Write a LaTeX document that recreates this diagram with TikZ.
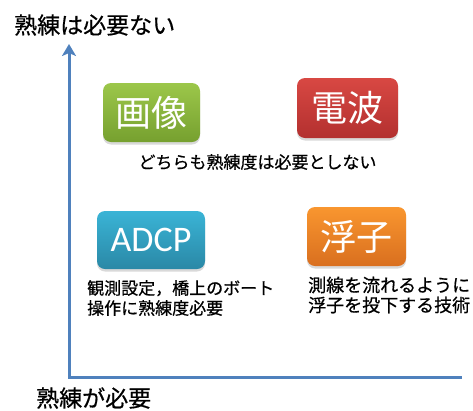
\documentclass[tikz,border=0pt]{standalone}
\usepackage{fontspec}
\newfontfamily\jp{Noto Sans CJK JP}
\newfontfamily\jpb[FakeBold=0.6]{Noto Sans CJK JP}
\newfontfamily\lat{Carlito}
\usetikzlibrary{arrows.meta,shadows}
\definecolor{axisblue}{HTML}{4F81BD}
\definecolor{gtop}{HTML}{9CC74A}
\definecolor{gbot}{HTML}{76A02F}
\definecolor{rtop}{HTML}{D84843}
\definecolor{rbot}{HTML}{B3302F}
\definecolor{btop}{HTML}{3AB4D6}
\definecolor{bbot}{HTML}{2A88A6}
\definecolor{otop}{HTML}{F9962F}
\definecolor{obot}{HTML}{D96F1F}
\tikzset{
  qbox/.style={rounded corners=8pt, minimum width=97pt, minimum height=59pt,
    inner sep=0pt, text=white, font=\jp\fontsize{36}{40}\selectfont,
    drop shadow={shadow xshift=0pt, shadow yshift=-2.5pt, opacity=0.3}},
  axislabel/.style={inner sep=0pt, anchor=west, font=\jpb\fontsize{23}{26}\selectfont},
  caption/.style={inner sep=0pt, align=left, font=\jpb\fontsize{17}{20}\selectfont},
  axisline/.style={draw=axisblue, line width=3pt}
}
\begin{document}
\begin{tikzpicture}[x=1pt,y=-1pt]
\useasboundingbox (0,0) rectangle (473,410);
% axes
\coordinate (ytop) at (69,44);
\coordinate (origin) at (69,377);
\coordinate (xend) at (462,377);
\draw[axisline, {Stealth[length=12pt,width=14pt,inset=3pt]}-] (ytop) -- (origin) -- (xend);
% axis labels
\node[axislabel] (ylab) at (14,25) {熟練は必要ない};
\node[axislabel] (xlab) at (36,398) {熟練が必要};
% boxes
\node[qbox, top color=gtop, bottom color=gbot] (gazo) at (151.5,112.5) {画像};
\node[qbox, top color=rtop, bottom color=rbot, minimum width=101pt, minimum height=60pt] (denpa) at (347.5,108) {電波};
\node[qbox, top color=btop, bottom color=bbot, minimum width=108pt, minimum height=58pt, font=\lat\fontsize{36}{40}\selectfont] (adcp) at (151,240) {ADCP};
\node[qbox, top color=otop, bottom color=obot, minimum width=99pt, minimum height=59pt] (fushi) at (356.5,236.5) {浮子};
% captions
\node[caption, anchor=center] (cap1) at (257.5,162) {どちらも熟練度は必要としない};
\node[caption, anchor=west] (cap2) at (87,298) {観測設定，橋上のボート\\操作に熟練度必要};
\node[caption, anchor=west, font=\jpb\fontsize{18}{20}\selectfont] (cap3) at (308,295) {測線を流れるように\\浮子を投下する技術};
\end{tikzpicture}
\end{document}
